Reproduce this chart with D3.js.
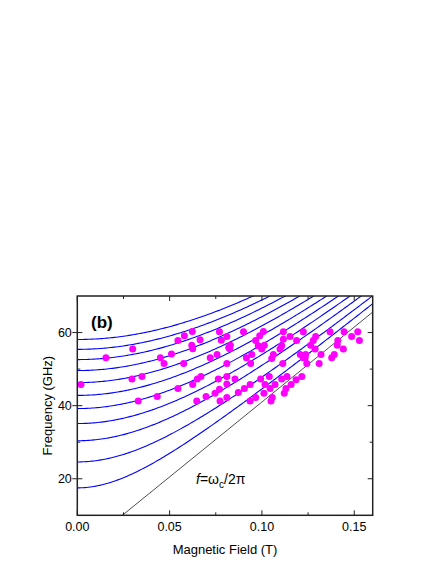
<!DOCTYPE html>
<html><head><meta charset="utf-8">
<script src="https://cdn.jsdelivr.net/npm/d3@7"></script>
<style>
body{margin:0;background:#fff;}
text{font-family:Arial,"Liberation Sans",sans-serif;}
</style></head>
<body><svg id="c" width="436" height="564"></svg>
<script>
// Zero-field frequencies (GHz) of the blue model curves, read at B = 0
const curveF0 = [17.5, 24.6, 30.4, 35.1, 39.2, 42.8, 46.3, 49.6, 52.6, 55.4, 58.1];
// Cyclotron slope f = omega_c / 2pi (GHz per T)
const cyclotronSlope = 410;
// Measured points: magnetic field (T)
const pointB = [0.002,0.0155,0.030,0.0296,0.035,0.033,
 0.0545,0.058,0.0623,0.0665,0.062,0.0625,0.077,0.078,0.081,0.082,0.045,0.051,0.047,0.0576,0.072,0.0757,0.081,0.067,0.065,0.0625,0.0764,0.081,0.081,0.0545,0.077,0.0746,0.0697,0.0433,0.0647,0.0773,0.081,
 0.090,0.0988,0.1008,0.0966,0.098,0.0999,0.1013,0.0829,0.0826,0.1116,0.1116,0.1152,0.1188,0.1224,0.1107,0.1098,0.0945,0.0916,0.0939,0.1062,0.1053,0.1113,0.1208,0.1224,
 0.0854,0.0936,0.0993,0.104,0.1017,0.1071,0.1107,0.1136,0.1158,0.1185,0.1216,0.0872,0.0905,0.0966,0.1011,0.1044,0.113,0.1121,0.0936,0.1056,0.1049,
 0.1291,0.1278,0.1264,0.1369,0.1445,0.1486,0.1519,0.1528,0.1411,0.1408,0.1441,0.1288,0.1237,0.1234,0.132,0.1392,0.1378,0.1243,0.131];
// Measured points: frequency (GHz)
const pointF = [45.8,53.1,55.5,47.3,48.0,41.3,
 57.8,59.1,60.3,58.0,56.5,55.6,60.2,57.9,58.9,55.9,53.1,54.1,51.5,51.5,53.1,54.0,51.5,48.0,47.3,45.8,47.3,48.0,45.9,44.7,44.5,43.4,42.5,42.5,41.3,41.3,42.2,
 60.2,59.1,60.3,57.8,56.4,55.5,56.5,56.5,55.6,60.2,58.2,58.9,57.8,60.2,56.4,55.5,54.0,53.1,51.5,54.0,52.9,51.5,54.0,53.1,
 47.3,45.8,47.3,48.0,45.8,45.8,47.3,48.0,45.8,47.1,48.0,43.6,44.7,42.2,43.4,44.7,44.7,43.4,41.3,42.2,41.3,
 58.9,57.8,56.5,60.2,60.2,58.9,60.2,57.8,57.8,56.5,55.5,55.5,54.0,53.1,54.0,54.0,53.1,51.5,51.5];
const xTickLabels = ["0.00","0.05","0.10","0.15"];
const yTickLabels = ["20","40","60"];

const svg = d3.select("#c");
const L=77.3, R=372.7, T=296, B=515.3;
const x = d3.scaleLinear().domain([0,0.16]).range([L,R]);
const y = d3.scaleLinear().domain([10,70]).range([B,T]);

svg.append("clipPath").attr("id","clip").append("rect")
  .attr("x",L).attr("y",T).attr("width",R-L).attr("height",B-T);
const g = svg.append("g").attr("clip-path","url(#clip)");

const bs = d3.range(0,0.1605,0.001);
const line = d3.line().x(d=>x(d[0])).y(d=>y(d[1]));
curveF0.forEach(f0=>{
  g.append("path").datum(bs.map(b=>[b,Math.sqrt(f0*f0+(cyclotronSlope*b)**2)]))
   .attr("d",line).attr("fill","none").attr("stroke","#0000ff").attr("stroke-width",1.1);
});
g.append("path").datum([[0,0],[0.16,cyclotronSlope*0.16]])
  .attr("d",line).attr("fill","none").attr("stroke","#000").attr("stroke-width",0.7);

g.selectAll("circle.p").data(pointB.map((b,i)=>[b,pointF[i]])).enter().append("circle")
  .attr("cx",d=>x(d[0])).attr("cy",d=>y(d[1])).attr("r",3.5).attr("fill","#ff00ff");

// axes
const ax = svg.append("g");
const xMaj=[0,0.05,0.10,0.15], xMin=[0.025,0.075,0.125];
const yMaj=[20,40,60], yMin=[10,30,50,70];
const tickStroke="#222";
function tk(x1,y1,x2,y2){ax.append("line").attr("x1",x1).attr("y1",y1).attr("x2",x2).attr("y2",y2).attr("stroke",tickStroke).attr("stroke-width",1);}
xMaj.forEach(v=>{tk(x(v),B,x(v),B-5);tk(x(v),T,x(v),T+5);});
xMin.forEach(v=>{tk(x(v),B,x(v),B-3);tk(x(v),T,x(v),T+3);});
yMaj.forEach(v=>{tk(L,y(v),L+5,y(v));tk(R,y(v),R-5,y(v));tk(L,y(v),L-5,y(v));});
yMin.forEach(v=>{if(v>10&&v<70){tk(L,y(v),L+3,y(v));tk(R,y(v),R-3,y(v));}});
ax.append("rect").attr("x",L).attr("y",T).attr("width",R-L).attr("height",B-T)
  .attr("fill","none").attr("stroke",tickStroke).attr("stroke-width",1.5);

xMaj.forEach((v,i)=>ax.append("text").attr("x",x(v)).attr("y",531).attr("text-anchor","middle")
  .attr("font-size",12.5).text(xTickLabels[i]));
yMaj.forEach((v,i)=>ax.append("text").attr("x",L-5.5).attr("y",y(v)+4.5).attr("text-anchor","end")
  .attr("font-size",12.5).text(yTickLabels[i]));

svg.append("text").attr("x",(L+R)/2).attr("y",554).attr("text-anchor","middle")
  .attr("font-size",13).text("Magnetic Field (T)");
svg.append("text").attr("transform","translate(52,"+((T+B)/2)+") rotate(-90)")
  .attr("text-anchor","middle").attr("font-size",13).text("Frequency (GHz)");
svg.append("text").attr("x",91).attr("y",328).attr("font-size",17).attr("font-weight","bold").text("(b)");

const ann = svg.append("text").attr("x",196).attr("y",484).attr("font-size",14);
ann.append("tspan").attr("font-style","italic").text("f");
ann.append("tspan").text("=ω");
ann.append("tspan").attr("font-size",10).attr("dy",4).text("c");
ann.append("tspan").attr("dy",-4).text("/2π");
</script></body></html>
